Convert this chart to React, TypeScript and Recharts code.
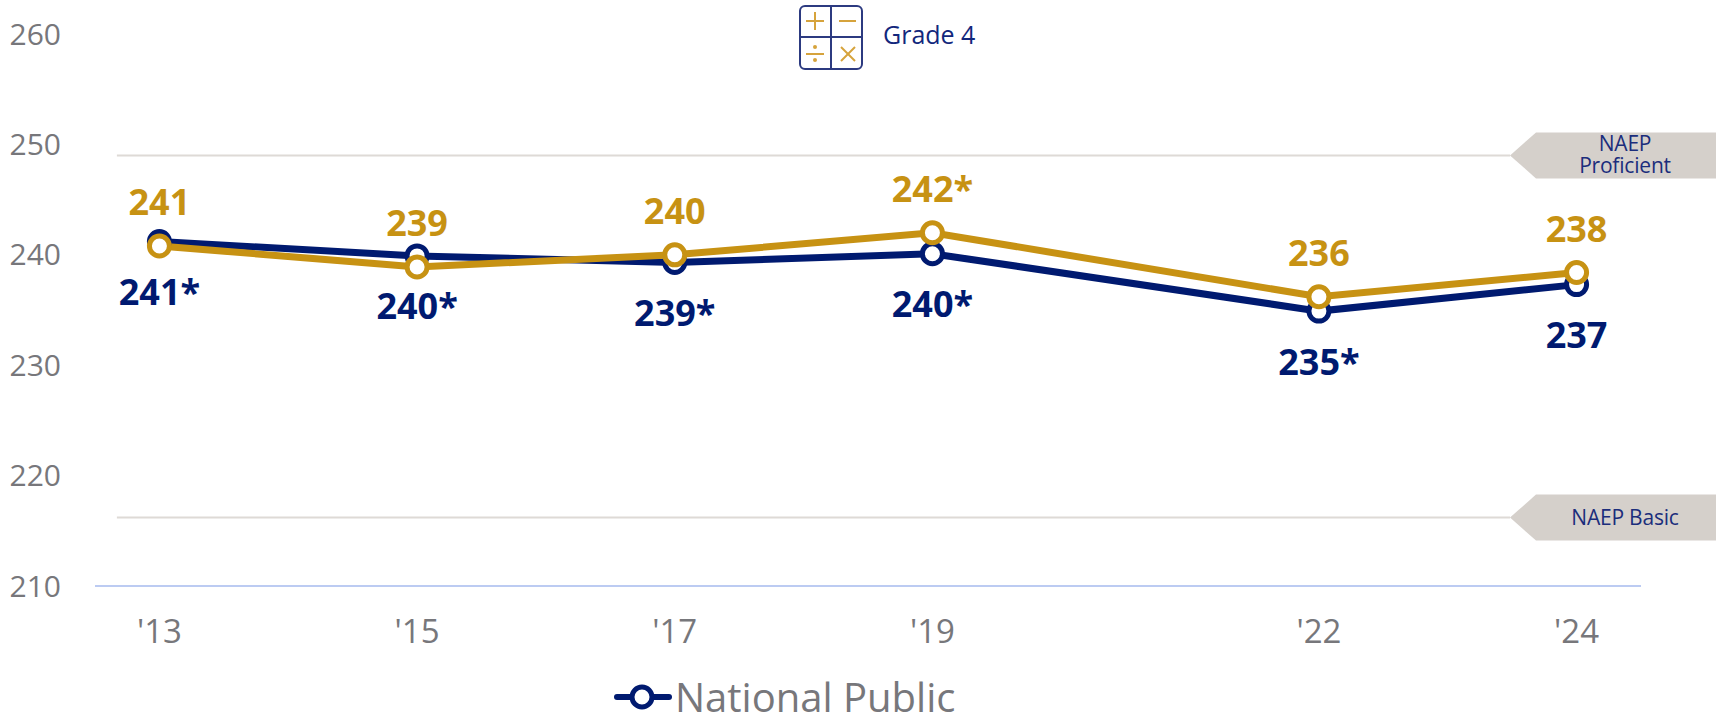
import React from "react";
import { LineChart, Line, XAxis, YAxis, ReferenceLine, Legend, LabelList } from "recharts";

const years = [2013, 2015, 2017, 2019, 2022, 2024];
const yearLabels = ["'13", "'15", "'17", "'19", "'22", "'24"];
const nationalValues = [241.2, 239.9, 239.3, 240.1, 234.9, 237.3];
const nationalLabels = ["241*", "240*", "239*", "240*", "235*", "237"];
const gradeValues = [240.8, 238.9, 240.0, 242.0, 236.2, 238.4];
const gradeLabels = ["241", "239", "240", "242*", "236", "238"];
const yTicks = [210, 220, 230, 240, 250, 260];
const proficientLevel = 249;
const basicLevel = 216.2;

const NAVY = "#001a70";
const GOLD = "#c79213";
const GRAY = "#77777b";
const TAG = "#d5d0cb";
const FONT = "'Open Sans', sans-serif";

const data = years.map((year, i) => ({
  year,
  national: nationalValues[i],
  nationalLabel: nationalLabels[i],
  grade: gradeValues[i],
  gradeLabel: gradeLabels[i],
}));

const tagLabel = (lines: string[]) => (props: any) => {
  const { x1, y1 } = props;
  const y = y1 as number;
  const tip = 1510;
  return (
    <g>
      <line x1={x1} y1={y} x2={tip} y2={y} stroke="#dedad6" strokeWidth={2} />
      <polygon points={`${tip},${y} ${tip + 26},${y - 23} 1716,${y - 23} 1716,${y + 23} ${tip + 26},${y + 23}`} fill={TAG} />
      <text x={1625} textAnchor="middle" fontFamily={FONT} fontSize={21} fill="#1b2d7c" style={{ letterSpacing: -0.2 }}>
        {lines.map((l, i) => (
          <tspan key={l} x={1625} y={y + 7 - (lines.length - 1) * 11 + i * 22}>
            {l}
          </tspan>
        ))}
      </text>
    </g>
  );
};

const valueLabel = (color: string, dy: number) => (props: any) => (
  <text
    x={props.x}
    y={(props.y as number) + dy}
    textAnchor="middle"
    dominantBaseline="central"
    fontFamily={FONT}
    fontWeight={700}
    fontSize={36}
    fill={color}
  >
    {props.value}
  </text>
);

const legendContent = (props: any) => {
  const item = (props.payload || []).find((p: any) => p.value === "National Public");
  if (!item) return null;
  return (
    <div style={{ display: "flex", alignItems: "center", marginLeft: 614, height: 40, whiteSpace: "nowrap" }}>
      <svg width={58} height={30} style={{ display: "block" }}>
        <line x1={3} y1={15} x2={55} y2={15} stroke={item.color} strokeWidth={6} strokeLinecap="round" />
        <circle cx={28} cy={15} r={10} fill="#fff" stroke={item.color} strokeWidth={5} />
      </svg>
      <span style={{ fontFamily: FONT, fontSize: 40, color: GRAY, marginLeft: 3, lineHeight: "40px" }}>{item.value}</span>
    </div>
  );
};

const GradeIcon = () => (
  <g>
    <rect x={800} y={6} width={62} height={63} rx={5} fill="#fff" stroke="#2c3a80" strokeWidth={2} />
    <line x1={831} y1={6} x2={831} y2={69} stroke="#2c3a80" strokeWidth={2} />
    <line x1={800} y1={37} x2={862} y2={37} stroke="#2c3a80" strokeWidth={2} />
    <g stroke="#d6a33c" strokeWidth={2} fill="none">
      <line x1={806} y1={21} x2={824} y2={21} />
      <line x1={815} y1={12} x2={815} y2={30} />
      <line x1={839} y1={21} x2={856} y2={21} />
      <line x1={806} y1={54} x2={824} y2={54} />
      <line x1={841} y1={47} x2={855} y2={61} />
      <line x1={855} y1={47} x2={841} y2={61} />
    </g>
    <circle cx={815} cy={47} r={2} fill="#d6a33c" />
    <circle cx={815} cy={60} r={2} fill="#d6a33c" />
    <text x={883} y={44} fontFamily={FONT} fontSize={25} fill="#12277c">
      Grade 4
    </text>
  </g>
);

export default function App() {
  return (
    <div style={{ position: "absolute", left: 0, top: 0, width: 1716, height: 717 }}>
      <LineChart width={1716} height={717} data={data} margin={{ top: 34, right: 75, bottom: 101, left: 0 }}>
        <XAxis
          dataKey="year"
          type="number"
          domain={[2012.5, 2024.5]}
          ticks={years}
          interval={0}
          height={30}
          tickFormatter={(v: number) => yearLabels[years.indexOf(v)]}
          axisLine={{ stroke: "#bccbf2", strokeWidth: 2 }}
          tickLine={false}
          tickMargin={28}
          tick={{ fontFamily: FONT, fontSize: 33, fill: GRAY }}
        />
        <YAxis
          type="number"
          domain={[210, 260]}
          ticks={yTicks}
          interval={0}
          width={95}
          axisLine={false}
          tickLine={false}
          tickMargin={28}
          tick={{ fontFamily: FONT, fontSize: 30, fill: GRAY }}
        />
        <ReferenceLine
          segment={[{ x: 2012.67, y: proficientLevel }, { x: 2024.5, y: proficientLevel }]}
          ifOverflow="visible"
          shape={tagLabel(["NAEP", "Proficient"])}
        />
        <ReferenceLine
          segment={[{ x: 2012.67, y: basicLevel }, { x: 2024.5, y: basicLevel }]}
          ifOverflow="visible"
          shape={tagLabel(["NAEP Basic"])}
        />
        <Line
          dataKey="national"
          name="National Public"
          stroke={NAVY}
          strokeWidth={7}
          dot={{ r: 10, fill: "#fff", stroke: NAVY, strokeWidth: 5 }}
          isAnimationActive={false}
        >
          <LabelList dataKey="nationalLabel" content={valueLabel(NAVY, 50)} />
        </Line>
        <Line
          dataKey="grade"
          name="Grade 4 state"
          stroke={GOLD}
          strokeWidth={7}
          dot={{ r: 10, fill: "#fff", stroke: GOLD, strokeWidth: 5 }}
          isAnimationActive={false}
        >
          <LabelList dataKey="gradeLabel" content={valueLabel(GOLD, -44)} />
        </Line>
        <Legend
          verticalAlign="middle"
          align="center"
          content={legendContent}
          wrapperStyle={{ top: 677, left: 0, width: 1716, height: 40 }}
        />
        <GradeIcon />
      </LineChart>
    </div>
  );
}
